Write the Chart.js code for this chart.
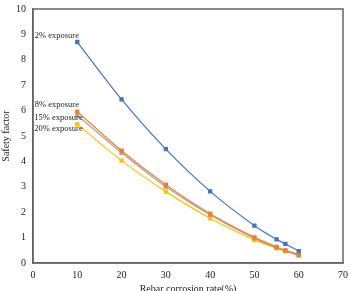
<!DOCTYPE html>
<html>
<head>
<meta charset="utf-8">
<script src="https://cdn.jsdelivr.net/npm/chart.js@4"></script>
<style>
html,body{margin:0;padding:0;background:#fff;}
#wrap{width:350px;height:291px;}
</style>
</head>
<body>
<div id="wrap"><canvas id="myChart"></canvas></div>
<script>
// corrosion rate (%) on x
const corrosion=[10,20,30,40,50,55,57,60];
// safety factor for each exposure case
const exp2=[8.70,6.44,4.48,2.82,1.47,0.93,0.75,0.47];
const exp8=[5.96,4.42,3.08,1.94,1.01,0.63,0.50,0.33];
const exp15=[5.81,4.34,3.00,1.89,0.97,0.61,0.48,0.31];
const exp20=[5.46,4.03,2.81,1.76,0.90,0.58,0.46,0.29];
const seriesNames=['2% exposure','8% exposure','15% exposure','20% exposure'];
// where the curve names sit, in data units
const nameX=[0.4,0.4,0.3,0.3];
const nameY=[8.93,6.22,5.72,5.27];
const xTicks=[0,10,20,30,40,50,60,70];
const yTicks=[0,1,2,3,4,5,6,7,8,9,10];

const colors=['#4472C4','#ED7D31','#A5A5A5','#FFC000'];
const serif='"Liberation Serif","Times New Roman",serif';

function pts(ys){
  return corrosion.map((x,i)=>({x:x,y:ys[i]}))
}
const allSeries=[exp2,exp8,exp15,exp20];

const boxAndNames={
  id:'boxAndNames',
  afterDraw(chart){
    const c=chart.ctx, a=chart.chartArea;
    c.save();
    c.strokeStyle='#666';
    c.lineWidth=1.5;
    c.strokeRect(a.left,a.top,a.right-a.left,a.bottom-a.top);
    c.fillStyle='#222';
    c.font='8.5px '+serif;
    c.textAlign='left';
    c.textBaseline='middle';
    const xs=chart.scales.x, ys=chart.scales.y;
    seriesNames.forEach((n,i)=>{
      c.fillText(n,xs.getPixelForValue(nameX[i]),ys.getPixelForValue(nameY[i]));
    });
    c.restore();
  }
};

const ctx=document.getElementById('myChart');
new Chart(ctx,{
  type:'line',
  data:{
    datasets:allSeries.map((s,i)=>({
      label:seriesNames[i],
      data:pts(s),
      borderColor:colors[i],
      backgroundColor:colors[i],
      borderWidth:1.2,
      pointStyle:'rect',
      pointRadius:2.2,
      tension:0.25
    }))
  },
  options:{
    responsive:true,
    maintainAspectRatio:false,
    animation:false,
    layout:{padding:{left:0,right:6,top:4,bottom:-4}},
    plugins:{legend:{display:false},tooltip:{enabled:false}},
    scales:{
      x:{
        type:'linear',min:0,max:70,
        afterBuildTicks:s=>{s.ticks=xTicks.map(v=>({value:v}))},
        grid:{display:false,drawTicks:true,tickLength:4,color:'#666'},
        border:{color:'#666',width:1.5},
        ticks:{color:'#222',font:{family:serif,size:10},padding:2,maxRotation:0},
        title:{display:true,text:'Rebar corrosion rate(%)',color:'#222',font:{family:serif,size:10},padding:{top:0,bottom:0}}
      },
      y:{
        type:'linear',min:0,max:10,
        afterBuildTicks:s=>{s.ticks=yTicks.map(v=>({value:v}))},
        grid:{display:false,drawTicks:true,tickLength:4,color:'#666'},
        border:{color:'#666',width:1.5},
        ticks:{color:'#222',font:{family:serif,size:10},padding:3},
        title:{display:true,text:'Safety factor',color:'#222',font:{family:serif,size:10},padding:{top:0,bottom:1}}
      }
    }
  },
  plugins:[boxAndNames]
});
</script>
</body>
</html>
